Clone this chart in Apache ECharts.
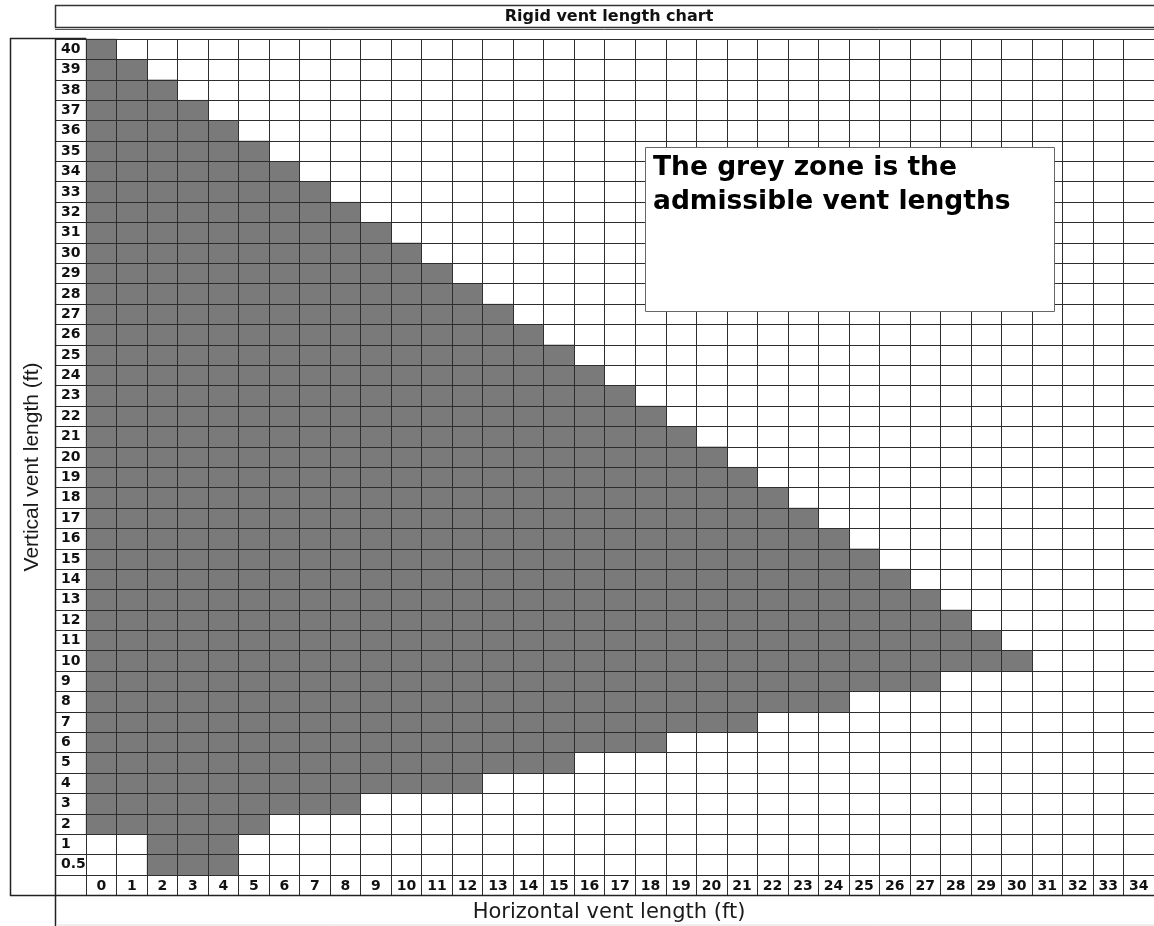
<!DOCTYPE html>
<html>
<head>
<meta charset="utf-8">
<title>Rigid vent length chart</title>
<script src="https://cdn.jsdelivr.net/npm/echarts@6/dist/echarts.min.js"></script>
<style>
  html, body { margin: 0; padding: 0; background: #ffffff; }
  #chart { width: 1154px; height: 926px; }
</style>
</head>
<body>
<div id="chart"></div>
<script>
// Horizontal vent length categories (ft)
const horizontalLengths = ['0','1','2','3','4','5','6','7','8','9','10','11','12','13','14','15','16','17',
  '18','19','20','21','22','23','24','25','26','27','28','29','30','31','32','33','34'];

// Vertical vent length categories (ft), bottom to top
const verticalLengths = ['0.5','1','2','3','4','5','6','7','8','9','10','11','12','13','14','15','16','17','18','19',
  '20','21','22','23','24','25','26','27','28','29','30','31','32','33','34','35','36','37','38','39','40'];

// Admissible range of vertical length for each horizontal length 0..30
const admissibleMin = ['2','2','0.5','0.5','0.5','2','3','3','3','4','4','4','4','5','5','5','6','6','6',
  '7','7','7','8','8','8','9','9','9','10','10','10'];
const admissibleMax = ['40','39','38','37','36','35','34','33','32','31','30','29','28','27','26','25','24','23','22',
  '21','20','19','18','17','16','15','14','13','12','11','10'];

// Expand each column's range into grey cells
const greyCells = [];
admissibleMin.forEach(function (lo, xi) {
  const from = verticalLengths.indexOf(lo);
  const to = verticalLengths.indexOf(admissibleMax[xi]);
  for (let yi = from; yi <= to; yi++) {
    greyCells.push([xi, yi, 1]);
  }
});

const gridColor = '#2e2e2e';
const labelFont = { fontFamily: 'DejaVu Sans', fontWeight: 'bold', fontSize: 14, color: '#111111' };

const chart = echarts.init(document.getElementById('chart'), null, { renderer: 'canvas' });

chart.setOption({
  animation: false,
  backgroundColor: '#ffffff',
  title: {
    text: 'Rigid vent length chart',
    left: 609,
    top: 9,
    textAlign: 'center',
    padding: 0,
    textStyle: { fontFamily: 'DejaVu Sans', fontWeight: 'bold', fontSize: 16, color: '#111111' }
  },
  grid: { left: 86, top: 39, width: 1076.6, height: 836, containLabel: false },
  xAxis: {
    type: 'category',
    data: horizontalLengths,
    position: 'bottom',
    z: 5,
    axisLine: { show: true, lineStyle: { color: gridColor, width: 1 } },
    axisTick: { show: true, interval: 0, length: 20, lineStyle: { color: gridColor, width: 1 } },
    axisLabel: Object.assign({ interval: 0, margin: 4 }, labelFont),
    splitLine: { show: true, interval: 0, lineStyle: { color: gridColor, width: 1 } }
  },
  yAxis: {
    type: 'category',
    data: verticalLengths,
    z: 5,
    axisLine: { show: true, lineStyle: { color: gridColor, width: 1 } },
    axisTick: { show: true, interval: 0, length: 31, lineStyle: { color: gridColor, width: 1 } },
    axisLabel: Object.assign({ interval: 0, margin: 25, align: 'left' }, labelFont),
    splitLine: { show: true, interval: 0, lineStyle: { color: gridColor, width: 1 } }
  },
  visualMap: {
    show: false,
    seriesIndex: 0,
    dimension: 2,
    min: 0,
    max: 1,
    inRange: { color: ['#7a7a7a', '#7a7a7a'] }
  },
  series: [{
    type: 'heatmap',
    data: greyCells,
    z: 2,
    itemStyle: { color: '#7a7a7a' },
    emphasis: { disabled: true },
    label: { show: false }
  }],
  graphic: [
    // title box
    { type: 'rect', z: 50, silent: true, shape: { x: 55.5, y: 5.5, width: 1120, height: 22 },
      style: { fill: null, stroke: '#333333', lineWidth: 1.5 } },
    { type: 'line', z: 50, silent: true, shape: { x1: 55, y1: 29.5, x2: 1154, y2: 29.5 },
      style: { stroke: '#555555', lineWidth: 1 } },
    // outer frame
    { type: 'line', z: 50, silent: true, shape: { x1: 10, y1: 38.5, x2: 86, y2: 38.5 },
      style: { stroke: '#222222', lineWidth: 1.5 } },
    { type: 'line', z: 50, silent: true, shape: { x1: 10.5, y1: 38, x2: 10.5, y2: 896 },
      style: { stroke: '#222222', lineWidth: 1.5 } },
    { type: 'line', z: 50, silent: true, shape: { x1: 55.5, y1: 38, x2: 55.5, y2: 926 },
      style: { stroke: '#222222', lineWidth: 1.5 } },
    { type: 'line', z: 50, silent: true, shape: { x1: 10, y1: 895.5, x2: 1154, y2: 895.5 },
      style: { stroke: '#222222', lineWidth: 1.5 } },
    { type: 'line', z: 50, silent: true, shape: { x1: 56, y1: 925, x2: 1154, y2: 925 },
      style: { stroke: '#dddddd', lineWidth: 1 } },
    // axis titles
    { type: 'text', z: 50, silent: true, x: 609, y: 913,
      style: { text: 'Horizontal vent length (ft)', fontFamily: 'DejaVu Sans', fontSize: 21,
        fill: '#1a1a1a', align: 'center', verticalAlign: 'middle' } },
    { type: 'text', z: 50, silent: true, x: 32, y: 467, rotation: Math.PI / 2,
      style: { text: 'Vertical vent length (ft)', fontFamily: 'Liberation Sans', fontSize: 21,
        fill: '#1a1a1a', align: 'center', verticalAlign: 'middle' } },
    // note box
    { type: 'rect', z: 60, silent: true, shape: { x: 645.5, y: 147.5, width: 409, height: 164 },
      style: { fill: '#ffffff', stroke: '#666666', lineWidth: 1 } },
    { type: 'text', z: 61, silent: true, x: 653, y: 151,
      style: { text: 'The grey zone is the\nadmissible vent lengths', fontFamily: 'DejaVu Sans',
        fontWeight: 'bold', fontSize: 26.5, lineHeight: 34, fill: '#000000',
        align: 'left', verticalAlign: 'top' } }
  ]
});
</script>
</body>
</html>
